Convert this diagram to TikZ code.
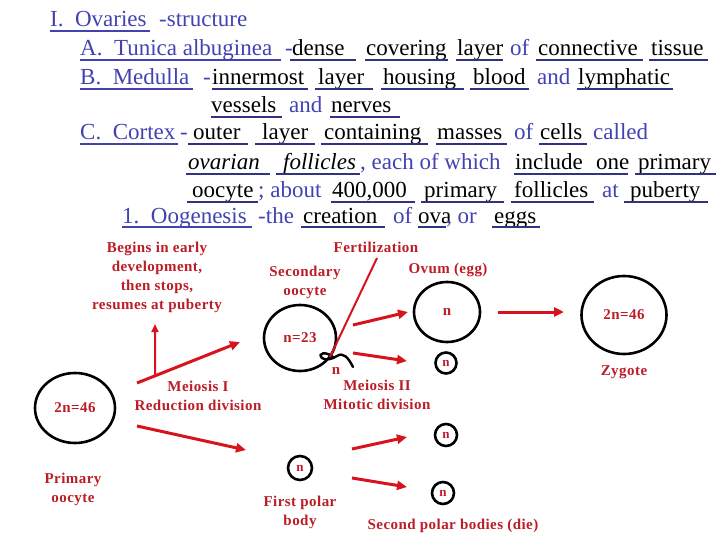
\documentclass[tikz,border=0pt]{standalone}
\usepackage{fontspec}
\setmainfont{Liberation Serif}
\newfontfamily\redf[LetterSpace=3]{Liberation Serif}
\usetikzlibrary{arrows.meta,shapes.geometric,calc}
\definecolor{hblue}{RGB}{66,66,178}
\definecolor{ublue}{RGB}{50,50,130}
\definecolor{dred}{RGB}{188,28,38}
\definecolor{ared}{RGB}{215,20,30}
\tikzset{
  txt/.style={inner sep=0, anchor=base west, font=\fontsize{23}{27}\selectfont},
  bw/.style={txt,text=black},
  hw/.style={txt,text=hblue},
  ul/.style={ublue,line width=1.3},
  rtxt/.style={font=\redf\bfseries\fontsize{15}{19}\selectfont,text=dred,align=center,inner sep=1},
  cell/.style={draw=black,line width=2.6,ellipse,inner sep=0,text=dred,font=\redf\bfseries\fontsize{15}{19}\selectfont},
  smallcell/.style={cell,font=\redf\bfseries\fontsize{13}{15}\selectfont},
  arr/.style={ared,line width=3,-{Triangle[length=10,width=9]}},
  thinarr/.style={ared,line width=2,-{Triangle[length=8,width=7]}},
  fline/.style={ared,line width=2},
}
\newcommand\UW[6]{\node[bw] (#1) at (#2,#3) {#6}; \draw[ul] (#4,#3+4) -- (#5,#3+4);}
\newcommand\HW[5]{\node[hw] (#1) at (#2,#3) {#5}; \draw[ul,hblue] (#2,#3+4) -- (#4,#3+4);}
\begin{document}
\begin{tikzpicture}[x=1pt,y=-1pt]
\useasboundingbox (0,0) rectangle (720,540);
% line 1
\HW{h1}{50}{27}{150}{I.\ \ Ovaries}
\node[hw] (s1) at (159,27) {-structure};
% line 2
\HW{h2}{80}{56}{281}{A.\ \ Tunica albuginea}
\node[hw] (d2) at (285,56) {-};
\UW{w21}{292}{56}{290}{356}{dense}
\UW{w22}{366}{56}{365}{448}{covering}
\UW{w23}{457}{56}{456}{503}{layer}
\node[hw] (o2) at (510,56) {of};
\UW{w24}{538}{56}{536}{643}{connective}
\UW{w25}{651}{56}{649}{708}{tissue}
% line 3
\HW{h3}{80}{85}{193}{B.\ \ Medulla}
\node[hw] (d3) at (203,85) {-};
\UW{w31}{212}{85}{212}{308}{innermost}
\UW{w32}{318}{85}{315}{373}{layer}
\UW{w33}{383}{85}{381}{464}{housing}
\UW{w34}{473}{85}{470}{529}{blood}
\node[hw] (a3) at (537,85) {and};
\UW{w35}{578}{85}{577}{673}{lymphatic}
% line 4
\UW{w41}{211}{113}{211}{282}{vessels}
\node[hw] (a4) at (289,113) {and};
\UW{w42}{331}{113}{330}{400}{nerves}
% line 5
\HW{h5}{80}{140}{178}{C.\ \ Cortex}
\node[hw] (d5) at (180,140) {-};
\UW{w51}{193}{140}{188}{248}{outer}
\UW{w52}{262}{140}{255}{315}{layer}
\UW{w53}{324}{140}{321}{428}{containing}
\UW{w54}{437}{140}{436}{507}{masses}
\node[hw] (o5) at (514,140) {of};
\UW{w55}{540}{140}{539}{587}{cells}
\node[hw] (c5) at (593,140) {called};
% line 6
\UW{w61}{188}{170}{186}{270}{\itshape ovarian}
\UW{w62}{283}{170}{276}{360}{\itshape follicles}
\node[hw] (e6) at (360,170) {, each of which};
\UW{w63}{515}{170}{514}{593}{include}
\UW{w64}{596}{170}{592}{628}{one}
\UW{w65}{638}{170}{635}{716}{primary}
% line 7
\UW{w71}{192}{198}{187}{258}{oocyte}
\node[hw] (a7) at (258,198) {; about};
\UW{w72}{332}{198}{331}{415}{400,000}
\UW{w73}{424}{198}{421}{504}{primary}
\UW{w74}{514}{198}{511}{594}{follicles}
\node[hw] (t7) at (602,198) {at};
\UW{w75}{630}{198}{624}{708}{puberty}
% line 8
\HW{h8}{122}{223}{252}{1.\ \ Oogenesis}
\node[hw] (t8) at (258,223) {-the};
\UW{w81}{303}{223}{301}{385}{creation}
\node[hw] (o8) at (393,223) {of};
\UW{w82}{418}{223}{418}{446}{ova}
\node[hw] (r8) at (446,223) {, or};
\UW{w83}{494}{223}{492}{540}{eggs}

% ---------- diagram ----------
\node[rtxt] (begins) at (157,277) {Begins in early\\development,\\then stops,\\resumes at puberty};
\node[rtxt] (fert) at (376,247) {Fertilization};
\node[rtxt] (seclab) at (305,282) {Secondary\\oocyte};
\node[rtxt] (ovlab) at (448,270) {Ovum (egg)};
\node[rtxt] (zyglab) at (624,372) {Zygote};
\node[rtxt] (primlab) at (73,489) {Primary\\oocyte};
\node[rtxt] (m1lab) at (198,396) {Meiosis I\\Reduction division};
\node[rtxt] (m2lab) at (377,395) {Meiosis II\\Mitotic division};
\node[rtxt] (spn) at (336,371) {n};
\node[rtxt] (fpblab) at (300,512) {First polar\\body};
\node[rtxt] (spblab) at (453,526) {Second polar bodies (die)};

\node[cell,minimum width=80,minimum height=70] (prim) at (75,408) {2n=46};
\node[cell,minimum width=72,minimum height=66] (sec) at (300,338) {n=23};
\node[cell,minimum width=66,minimum height=60] (ovum) at (447,312) {n};
\node[cell,minimum width=85,minimum height=78] (zyg) at (624,315) {2n=46};
\node[smallcell,minimum width=21,minimum height=21] (pb2a) at (446,363) {n};
\node[smallcell,minimum width=24,minimum height=24] (fpb) at (300,468) {n};
\node[smallcell,minimum width=22,minimum height=22] (pb2b) at (446,435) {n};
\node[smallcell,minimum width=22,minimum height=22] (pb2c) at (443,493) {n};

% sperm
\draw[black,line width=2.4,line cap=round] (333,357) .. controls (326,351) and (317,353) .. (322,358) .. controls (326,361) and (332,359) .. (337,356) .. controls (343,352) and (348,357) .. (353,367);

% connector end points
\coordinate (a1s) at (137,383); \coordinate (a1e) at (240,342);
\coordinate (vs) at ($(a1s)!0.175!(a1e)$); \coordinate (ve) at (155,324);
\coordinate (a2s) at (137,426); \coordinate (a2e) at (246,450);
\coordinate (a3s) at (353,325); \coordinate (a3e) at (408,312);
\coordinate (a4s) at (353,353); \coordinate (a4e) at (407,361);
\coordinate (a5s) at (498,312); \coordinate (a5e) at (564,312);
\coordinate (a6s) at (352,449); \coordinate (a6e) at (407,437);
\coordinate (a7s) at (352,478); \coordinate (a7e) at (407,487);
\coordinate (fs) at (377,258); \coordinate (fe) at (330,357);

\draw[arr] (a1s) -- (a1e);
\draw[thinarr] (vs) -- (ve);
\draw[arr] (a2s) -- (a2e);
\draw[arr] (a3s) -- (a3e);
\draw[arr] (a4s) -- (a4e);
\draw[arr] (a5s) -- (a5e);
\draw[arr] (a6s) -- (a6e);
\draw[arr] (a7s) -- (a7e);
\draw[fline] (fs) -- (fe);
\end{tikzpicture}
\end{document}
